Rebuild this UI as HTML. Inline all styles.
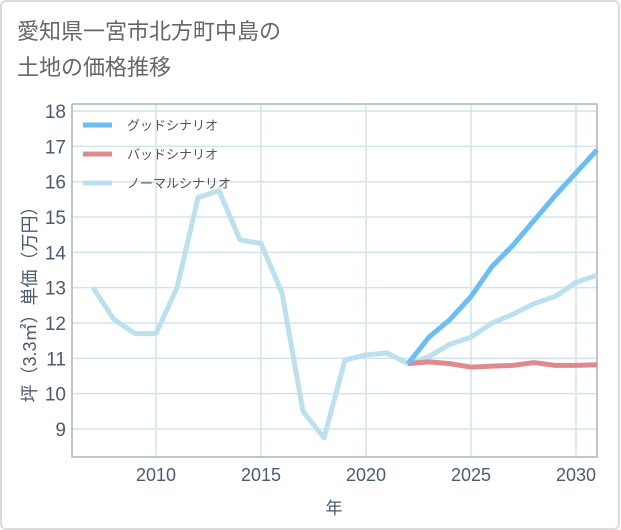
<!DOCTYPE html>
<html><head><meta charset="utf-8"><style>
body{margin:0;background:#fff;}
#wrap{position:relative;width:621px;height:530px;overflow:hidden;}
#frame{position:absolute;left:0;top:0;width:616px;height:526px;border:2px solid #dcdcdc;border-radius:6px;box-sizing:content-box;}
#title{position:absolute;left:17px;top:14px;font:22px "Liberation Sans","Noto Sans CJK JP",sans-serif;color:#666;line-height:36px;}
svg{position:absolute;left:0;top:0;}
text{font-family:"Liberation Sans","Noto Sans CJK JP",sans-serif;}
</style></head><body>
<div id="wrap">
<div id="frame"></div>
<div id="title">愛知県一宮市北方町中島の<br>土地の価格推移</div>
<svg id="chart" width="621" height="530"></svg>
</div>
<script>
const years=[2007,2008,2009,2010,2011,2012,2013,2014,2015,2016,2017,2018,2019,2020,2021,2022,2023,2024,2025,2026,2027,2028,2029,2030,2031];
const normalValues=[13.0,12.1,11.7,11.7,13.0,15.55,15.75,14.35,14.25,12.85,9.5,8.75,10.95,11.1,11.15,10.85,11.05,11.4,11.6,12.0,12.25,12.55,12.75,13.15,13.35];
const forecastYears=[2022,2023,2024,2025,2026,2027,2028,2029,2030,2031];
const goodValues=[10.85,11.6,12.1,12.75,13.6,14.2,14.9,15.6,16.25,16.9];
const badValues=[10.85,10.9,10.85,10.75,10.78,10.8,10.88,10.8,10.8,10.82];
const yTicks=[9,10,11,12,13,14,15,16,17,18];
const xTicks=[2010,2015,2020,2025,2030];
const legendLabels=["グッドシナリオ","バッドシナリオ","ノーマルシナリオ"];
const colors=["#6bbdf2","#e08a90","#bde0ee"];

const L=72,R=597,T=104,B=457;
const x=v=>156+(v-2010)*21;
const y=v=>429-(v-9)*35.33;
const svg=document.getElementById('chart');
const NS='http://www.w3.org/2000/svg';
function mk(tag,attrs){const e=document.createElementNS(NS,tag);for(const k in attrs)e.setAttribute(k,attrs[k]);svg.appendChild(e);return e;}

for(let yr=2007;yr<=2031;yr+=5){}
yTicks.forEach(t=>{const l=mk('line',{x1:L,x2:R,y1:y(t),y2:y(t),stroke:'#d3e3ee','stroke-width':1.5});

const tx=mk('text',{x:L-6,y:y(t)+7,'text-anchor':'end','font-size':19,fill:'#4a5a70'});tx.textContent=t;
});
xTicks.forEach(t=>{const l=mk('line',{x1:x(t),x2:x(t),y1:T,y2:B,stroke:'#d3e3ee','stroke-width':1.5});

const tx=mk('text',{x:x(t),y:B+24,'text-anchor':'middle','font-size':18,fill:'#4a5a70'});tx.textContent=t;
});
const ax=mk('path',{d:`M${L},${T} V${B} H${R} V${T} H${L}`,fill:'none',stroke:'#aab4bf','stroke-width':1.5});


function line(xs,vs,c,w,name){const p=mk('polyline',{points:xs.map((t,i)=>x(t)+','+y(vs[i])).join(' '),fill:'none',stroke:c,'stroke-width':w,'stroke-linejoin':'round'});
}
line(years,normalValues,colors[2],5,'normal-scenario-line');
line(forecastYears,badValues,colors[1],5,'bad-scenario-line');
line(forecastYears,goodValues,colors[0],5,'good-scenario-line');

legendLabels.forEach((lab,i)=>{const ly=125+i*29;
const r=mk('line',{x1:83,x2:112,y1:ly,y2:ly,stroke:colors[i],'stroke-width':5});

const t=mk('text',{x:127,y:ly+5,'font-size':13,fill:'#555'});t.textContent=lab;
});

const yt=mk('text',{x:0,y:0,'font-size':18,fill:'#4a5a70','text-anchor':'middle',transform:'translate(36,300) rotate(-90)'});
yt.textContent='坪（3.3㎡）単価（万円）';

const xt=mk('text',{x:334,y:514,'font-size':17,fill:'#4a5a70','text-anchor':'middle'});xt.textContent='年';

</script>
</body></html>
